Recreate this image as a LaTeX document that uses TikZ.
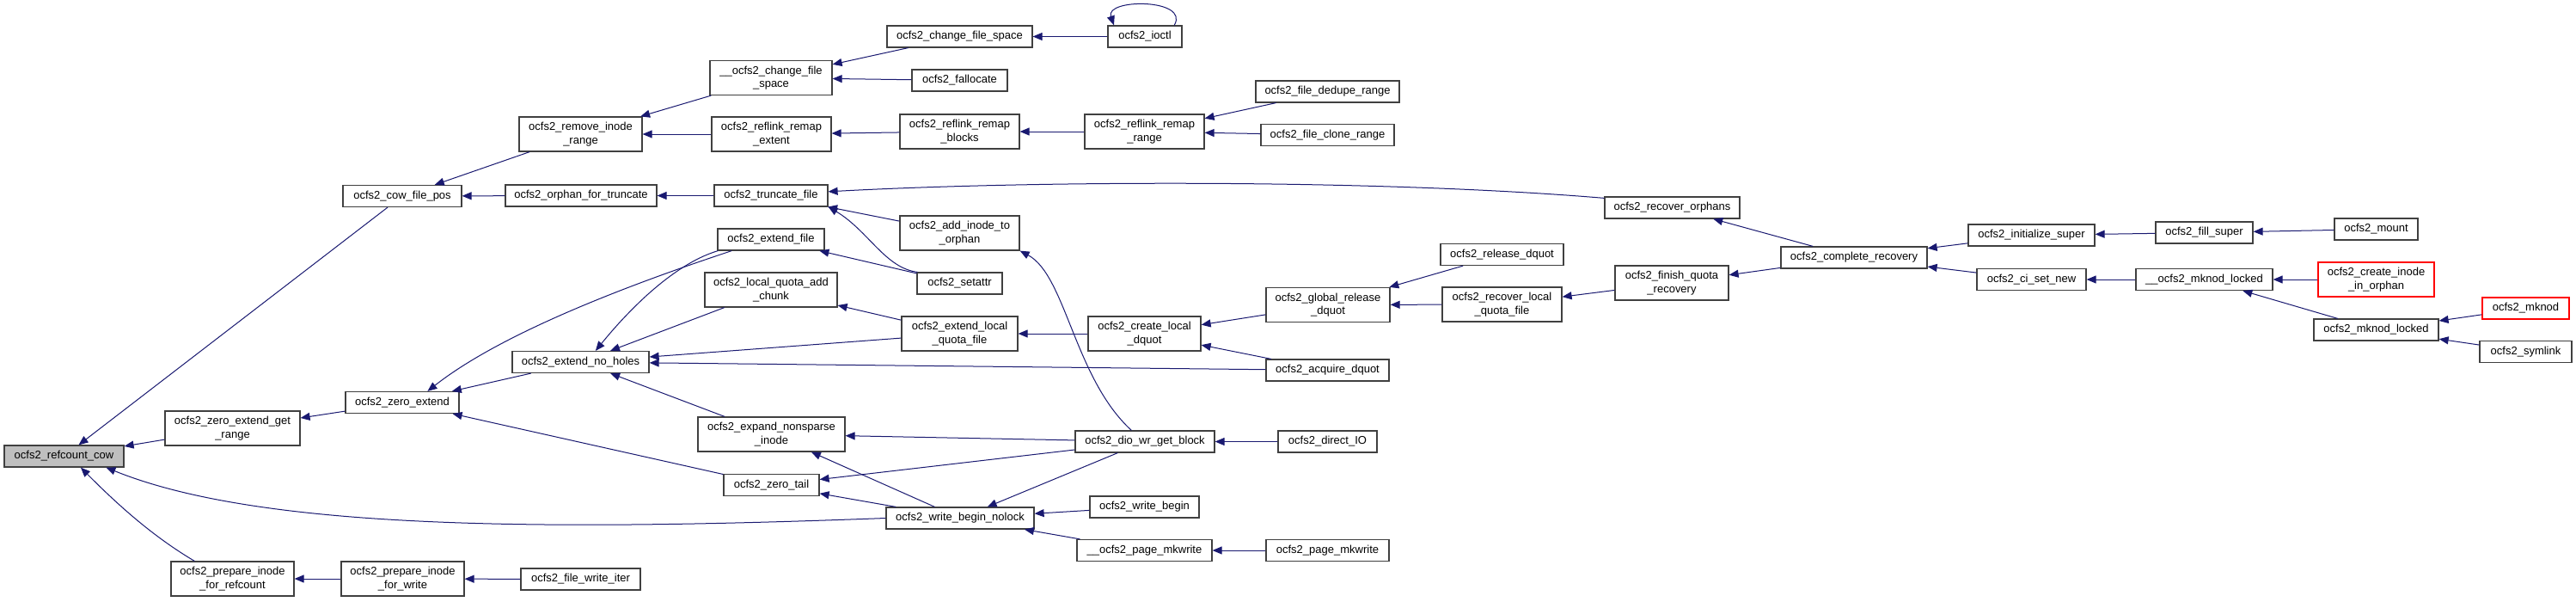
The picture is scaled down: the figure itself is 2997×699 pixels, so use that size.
\documentclass[tikz,border=0pt]{standalone}
\usepackage{fontspec}
\setmainfont{Liberation Sans}
\usetikzlibrary{arrows.meta}
\definecolor{edgeblue}{HTML}{191970}
\definecolor{focusgray}{HTML}{BFBFBF}
\definecolor{boxline}{HTML}{404040}
\begin{document}
\begin{tikzpicture}[
  x=1pt, y=-1pt,
  every node/.style={align=center, font=\fontsize{13}{15.5}\selectfont},
  func/.style={draw=boxline, line width=1.2pt, fill=white, inner sep=0pt,
               minimum height=25pt},
  tall/.style={minimum height=40pt},
  focus/.style={func, fill=focusgray},
  cutoff/.style={func, draw=red},
  call/.style={->, >={Triangle[length=11pt,width=9pt]}, edgeblue, line width=1pt}
]
  \useasboundingbox (0,0) rectangle (2997,699);

  \node[focus, minimum width=139pt] (cow) at (74.5,530.5) {ocfs2\_refcount\_cow};

  \node[func, minimum width=138pt] (cowpos) at (468,228) {ocfs2\_cow\_file\_pos};
  \node[func, tall, minimum width=157pt] (zegr) at (270.5,498) {ocfs2\_zero\_extend\_get\\\_range};
  \node[func, tall, minimum width=143pt] (pifr) at (270.5,673) {ocfs2\_prepare\_inode\\\_for\_refcount};
  \node[func, minimum width=132pt] (zext) at (468,468) {ocfs2\_zero\_extend};
  \node[func, tall, minimum width=143pt] (pifw) at (468.5,673) {ocfs2\_prepare\_inode\\\_for\_write};

  \node[func, tall, minimum width=143pt] (rir) at (675.5,156) {ocfs2\_remove\_inode\\\_range};
  \node[func, minimum width=176pt] (oft) at (676,227.5) {ocfs2\_orphan\_for\_truncate};
  \node[func, minimum width=159pt] (enh) at (675.5,421) {ocfs2\_extend\_no\_holes};
  \node[func, minimum width=139pt] (fwi) at (675.5,673.5) {ocfs2\_file\_write\_iter};

  \node[func, tall, minimum width=142pt] (ucfs) at (897,90.5) {\_\_ocfs2\_change\_file\\\_space};
  \node[func, tall, minimum width=139pt] (rre) at (897.5,156) {ocfs2\_reflink\_remap\\\_extent};
  \node[func, minimum width=132pt] (tf) at (897,227.5) {ocfs2\_truncate\_file};
  \node[func, minimum width=124pt] (ef) at (897,278.5) {ocfs2\_extend\_file};
  \node[func, tall, minimum width=154pt] (lqac) at (897,337) {ocfs2\_local\_quota\_add\\\_chunk};
  \node[func, tall, minimum width=171pt] (ensi) at (897.5,505) {ocfs2\_expand\_nonsparse\\\_inode};
  \node[func, minimum width=111pt] (zt) at (897.5,564) {ocfs2\_zero\_tail};

  \node[func, minimum width=169pt] (cfs) at (1116.5,42.5) {ocfs2\_change\_file\_space};
  \node[func, minimum width=111pt] (fal) at (1116.5,93.5) {ocfs2\_fallocate};
  \node[func, tall, minimum width=139pt] (rrb) at (1116.5,153) {ocfs2\_reflink\_remap\\\_blocks};
  \node[func, tall, minimum width=139pt] (aito) at (1116.5,271) {ocfs2\_add\_inode\_to\\\_orphan};
  \node[func, minimum width=99pt] (sa) at (1116.5,329.5) {ocfs2\_setattr};
  \node[func, tall, minimum width=135pt] (elqf) at (1116.5,388) {ocfs2\_extend\_local\\\_quota\_file};
  \node[func, minimum width=172pt] (wbn) at (1117,602.5) {ocfs2\_write\_begin\_nolock};

  \node[func, minimum width=86pt] (ioctl) at (1332,42.5) {ocfs2\_ioctl};
  \node[func, tall, minimum width=139pt] (rrr) at (1331.5,153) {ocfs2\_reflink\_remap\\\_range};
  \node[func, tall, minimum width=131pt] (cld) at (1331.5,388) {ocfs2\_create\_local\\\_dquot};
  \node[func, minimum width=162pt] (dio) at (1332,513.5) {ocfs2\_dio\_wr\_get\_block};
  \node[func, minimum width=127pt] (wb) at (1331.5,589.5) {ocfs2\_write\_begin};
  \node[func, minimum width=157pt] (upm) at (1331.5,640) {\_\_ocfs2\_page\_mkwrite};

  \node[func, minimum width=167pt] (fdr) at (1544.5,106.5) {ocfs2\_file\_dedupe\_range};
  \node[func, minimum width=155pt] (fcr) at (1544.5,157) {ocfs2\_file\_clone\_range};
  \node[func, tall, minimum width=144pt] (grd) at (1545,354.5) {ocfs2\_global\_release\\\_dquot};
  \node[func, minimum width=143pt] (acq) at (1544.5,430.5) {ocfs2\_acquire\_dquot};
  \node[func, minimum width=115pt] (dirio) at (1544.5,513.5) {ocfs2\_direct\_IO};
  \node[func, minimum width=143pt] (pm) at (1544.5,640) {ocfs2\_page\_mkwrite};

  \node[func, minimum width=143pt] (rd) at (1747.5,296) {ocfs2\_release\_dquot};
  \node[func, tall, minimum width=139pt] (rlqf) at (1747.5,354) {ocfs2\_recover\_local\\\_quota\_file};
  \node[func, minimum width=157pt] (ro) at (1945.5,241.5) {ocfs2\_recover\_orphans};
  \node[func, tall, minimum width=132pt] (fqr) at (1945,329) {ocfs2\_finish\_quota\\\_recovery};
  \node[func, minimum width=170pt] (cr) at (2157,299.5) {ocfs2\_complete\_recovery};

  \node[func, minimum width=147pt] (inits) at (2363.5,273.5) {ocfs2\_initialize\_super};
  \node[func, minimum width=127pt] (csn) at (2363.5,325) {ocfs2\_ci\_set\_new};
  \node[func, minimum width=113pt] (fsup) at (2564.5,270.5) {ocfs2\_fill\_super};
  \node[func, minimum width=159pt] (umkl) at (2564.5,325) {\_\_ocfs2\_mknod\_locked};
  \node[func, minimum width=97pt] (mnt) at (2764.5,266.5) {ocfs2\_mount};
  \node[cutoff, tall, minimum width=135pt] (ciio) at (2764.5,325) {ocfs2\_create\_inode\\\_in\_orphan};
  \node[func, minimum width=145pt] (mkl) at (2764.5,383.5) {ocfs2\_mknod\_locked};
  \node[cutoff, minimum width=101pt] (mkn) at (2938.5,358.5) {ocfs2\_mknod};
  \node[func, minimum width=107pt] (sym) at (2938.5,409) {ocfs2\_symlink};

  \draw[call] (cowpos) -- (cow);
  \draw[call] (zegr) -- (cow);
  \draw[call] (wbn.west) .. controls (620,618) and (300,615) .. (cow.-15);
  \draw[call] (pifr.155) .. controls (180,625) and (140,590) .. (cow.-34);
  \draw[call] (rir) -- (cowpos);
  \draw[call] (oft) -- (cowpos);
  \draw[call] (zext) -- (zegr);
  \draw[call] (pifw) -- (pifr);
  \draw[call] (ucfs) -- (rir);
  \draw[call] (rre) -- (rir);
  \draw[call] (tf) -- (oft);
  \draw[call] (enh) -- (zext);
  \draw[call] (ef.196) .. controls (720,335) and (580,390) .. (zext.24);
  \draw[call] (ef.192) .. controls (790,305) and (740,350) .. (enh.37);
  \draw[call] (zt) -- (zext);
  \draw[call] (fwi) -- (pifw);
  \draw[call] (cfs) -- (ucfs);
  \draw[call] (fal) -- (ucfs);
  \draw[call] (rrb) -- (rre);
  \draw[call] (ro.172) .. controls (1600,208) and (1200,210) .. (tf.4);
  \draw[call] (aito) -- (tf);
  \draw[call] (sa.165) .. controls (1030,312) and (1010,268) .. (tf.-11);
  \draw[call] (sa) -- (ef);
  \draw[call] (lqac) -- (enh);
  \draw[call] (elqf) -- (lqac);
  \draw[call] (elqf) -- (enh);
  \draw[call] (acq) -- (enh);
  \draw[call] (ensi) -- (enh);
  \draw[call] (dio) -- (ensi);
  \draw[call] (wbn) -- (ensi);
  \draw[call] (dio) -- (zt);
  \draw[call] (wbn) -- (zt);
  \draw[call] (dio.140) .. controls (1250,440) and (1240,320) .. (aito.south east);
  \draw[call] (dio) -- (wbn);
  \draw[call] (wb) -- (wbn);
  \draw[call] (upm) -- (wbn);
  \draw[call] (pm) -- (upm);
  \draw[call] (dirio) -- (dio);
  \draw[call] (cld) -- (elqf);
  \draw[call] (grd) -- (cld);
  \draw[call] (acq) -- (cld);
  \draw[call] (rd) -- (grd);
  \draw[call] (rlqf) -- (grd);
  \draw[call] (fqr) -- (rlqf);
  \draw[call] (cr) -- (fqr);
  \draw[call] (cr) -- (ro);
  \draw[call] (inits) -- (cr);
  \draw[call] (csn) -- (cr);
  \draw[call] (fsup) -- (inits);
  \draw[call] (mnt) -- (fsup);
  \draw[call] (umkl) -- (csn);
  \draw[call] (ciio) -- (umkl);
  \draw[call] (mkl) -- (umkl);
  \draw[call] (mkn) -- (mkl);
  \draw[call] (sym) -- (mkl);
  \draw[call] (ioctl) -- (cfs);
  \draw[call] (ioctl.21) .. controls (1385,-2) and (1285,-2) .. (ioctl.160);
  \draw[call] (rrr) -- (rrb);
  \draw[call] (fdr) -- (rrr);
  \draw[call] (fcr) -- (rrr);
\end{tikzpicture}
\end{document}
